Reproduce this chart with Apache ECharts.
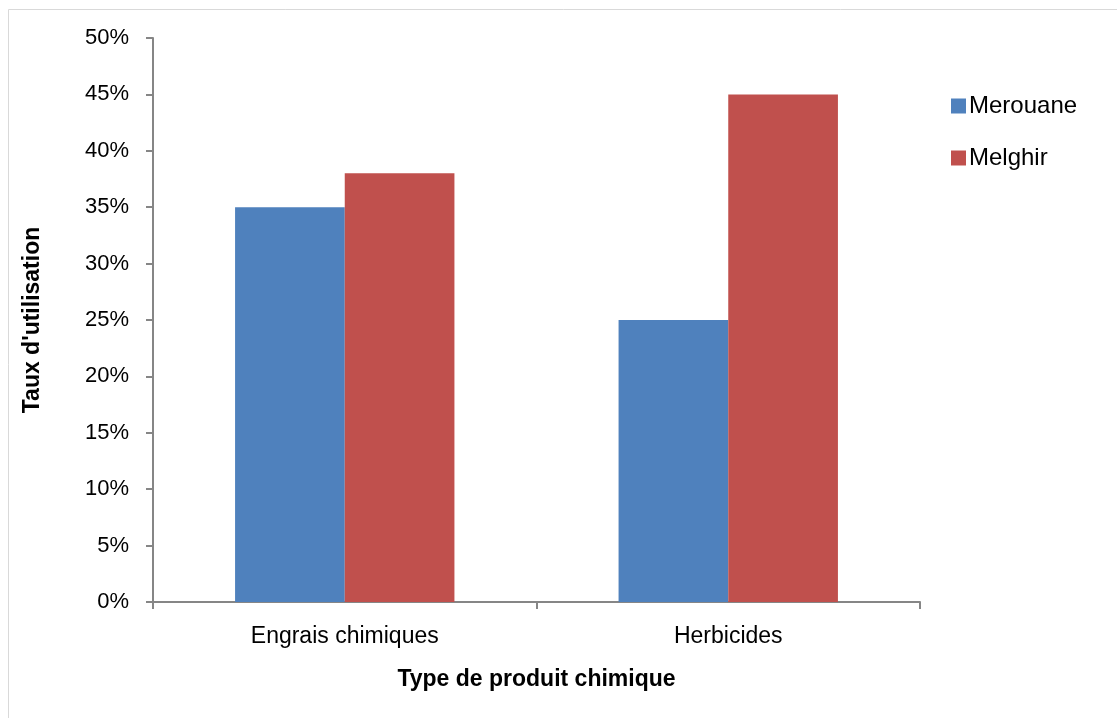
<!DOCTYPE html>
<html>
<head>
<meta charset="utf-8">
<script src="https://cdn.jsdelivr.net/npm/echarts@6/dist/echarts.min.js"></script>
<style>
  html, body { margin: 0; padding: 0; background: #fff; }
  #chart { width: 1117px; height: 718px; }
</style>
</head>
<body>
<div id="chart"></div>
<script>
// data
var categories = ['Engrais chimiques', 'Herbicides']
var merouane = [0.35, 0.25]
var melghir = [0.38, 0.45]
var seriesNames = ['Merouane', 'Melghir']

var font = "'Liberation Sans', Arial, sans-serif"

var myChart = echarts.init(document.getElementById('chart'))
var option = {
  animation: false,
  graphic: [{
    type: 'rect',
    shape: { x: 8.5, y: 9.5, width: 1120, height: 720 },
    style: { fill: 'none', stroke: '#d9d9d9', lineWidth: 1 }
  }],
  legend: {
    orient: 'vertical',
    left: 946,
    top: 89,
    itemWidth: 15,
    itemHeight: 15,
    itemGap: 28,
    icon: 'rect',
    textStyle: { fontFamily: font, fontSize: 24, color: '#000', padding: [0, 0, 0, -2] },
    data: seriesNames
  },
  grid: {
    left: 153,
    right: 197,
    top: 38,
    bottom: 116,
    containLabel: false
  },
  xAxis: {
    type: 'category',
    data: categories,
    name: 'Type de produit chimique',
    nameLocation: 'middle',
    nameGap: 66,
    nameTextStyle: { fontFamily: font, fontSize: 23, fontWeight: 'bold', color: '#000' },
    axisLine: { lineStyle: { color: '#868686', width: 2 } },
    axisTick: { show: true, length: 7, lineStyle: { color: '#868686', width: 2 } },
    axisLabel: { fontFamily: font, fontSize: 23, color: '#000', margin: 23 }
  },
  yAxis: {
    type: 'value',
    min: 0,
    max: 0.5,
    interval: 0.05,
    name: "Taux d'utilisation",
    nameLocation: 'middle',
    nameGap: 109,
    nameTextStyle: { fontFamily: font, fontSize: 23, fontWeight: 'bold', color: '#000' },
    axisLine: { show: true, lineStyle: { color: '#868686', width: 2 } },
    axisTick: { show: true, length: 7, lineStyle: { color: '#868686', width: 2 } },
    splitLine: { show: false },
    axisLabel: {
      fontFamily: font,
      fontSize: 22,
      color: '#000',
      margin: 24,
      formatter: function (v) {
        return Math.round(v * 100) + '%'
      }
    }
  },
  series: [{
    name: seriesNames[0],
    type: 'bar',
    data: merouane,
    barWidth: '28.6%',
    barGap: '0%',
    itemStyle: { color: '#4f81bd' }
  }, {
    name: seriesNames[1],
    type: 'bar',
    data: melghir,
    barWidth: '28.6%',
    itemStyle: { color: '#c0504d' }
  }]
}
myChart.setOption(option)
window.addEventListener('resize', function () {
  myChart.resize()
})
</script>
</body>
</html>
